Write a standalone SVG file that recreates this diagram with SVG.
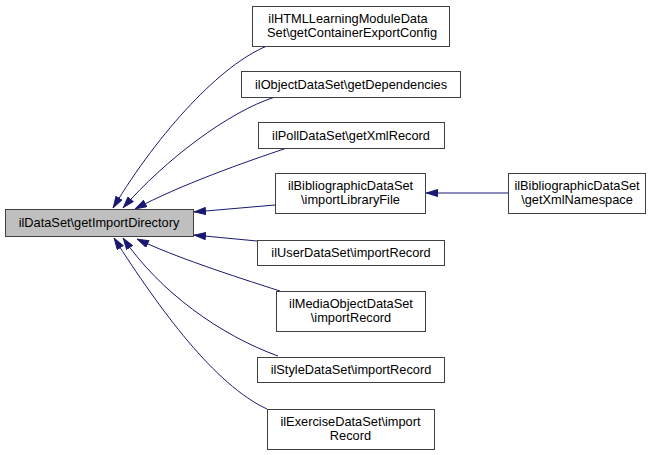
<svg xmlns="http://www.w3.org/2000/svg" width="664" height="455" viewBox="0 0 664 455">
<style>
.n rect{fill:#ffffff;stroke:#404040;stroke-width:1}
.n.main rect{fill:#bfbfbf}
.n text{font-family:"Liberation Sans",Arial,sans-serif;font-size:12.8px;fill:#000;text-anchor:middle}
.e path{fill:none;stroke:#191970;stroke-width:1;marker-end:url(#ah)}
</style>
<defs>
<marker id="ah" viewBox="0 0 12 8" refX="12" refY="4" markerWidth="12" markerHeight="8" markerUnits="userSpaceOnUse" orient="auto">
<path d="M0.5,0.5 L11.5,4 L0.5,7.5 z" fill="#191970" stroke="#191970" stroke-width="1"/>
</marker>
</defs>
<rect width="664" height="455" fill="#ffffff"/>
<g id="edges" class="e">
<path d="M267,46 C222,64 160,130 113,208"/>
<path d="M275,97 C228,112 165,160 123,208"/>
<path d="M287,148 C245,162 180,185 135,209"/>
<path d="M275,205 L194,212"/>
<path d="M508,193 L426,193"/>
<path d="M257,241 L194,235"/>
<path d="M280,291 C230,275 175,257 137,239"/>
<path d="M278,356 C220,335 160,292 123,238"/>
<path d="M267,409 C215,385 160,310 114,238"/>
</g>
<g id="node-main" class="n main"><rect x="5.5" y="209.5" width="188" height="27"/><text x="99" y="227">ilDataSet\getImportDirectory</text></g>
<g id="node-html" class="n"><rect x="252.5" y="6.5" width="197" height="40"/><text x="348" y="23">ilHTMLLearningModuleData</text><text x="352" y="37">Set\getContainerExportConfig</text></g>
<g id="node-object" class="n"><rect x="241.5" y="71.5" width="219" height="26"/><text x="351" y="89">ilObjectDataSet\getDependencies</text></g>
<g id="node-poll" class="n"><rect x="258.5" y="122.5" width="186" height="26"/><text x="351" y="140">ilPollDataSet\getXmlRecord</text></g>
<g id="node-bib-import" class="n"><rect x="275.5" y="173.5" width="150" height="40"/><text x="350.5" y="190">ilBibliographicDataSet</text><text x="350.5" y="204">\importLibraryFile</text></g>
<g id="node-bib-ns" class="n"><rect x="508.5" y="173.5" width="137" height="40"/><text x="577" y="190">ilBibliographicDataSet</text><text x="577" y="204">\getXmlNamespace</text></g>
<g id="node-user" class="n"><rect x="257.5" y="240.5" width="187" height="25"/><text x="351" y="257">ilUserDataSet\importRecord</text></g>
<g id="node-media" class="n"><rect x="276.5" y="291.5" width="149" height="40"/><text x="351" y="308">ilMediaObjectDataSet</text><text x="351" y="322">\importRecord</text></g>
<g id="node-style" class="n"><rect x="257.5" y="357.5" width="187" height="25"/><text x="351" y="374">ilStyleDataSet\importRecord</text></g>
<g id="node-exercise" class="n"><rect x="267.5" y="409.5" width="167" height="40"/><text x="350.5" y="426">ilExerciseDataSet\import</text><text x="350.5" y="440">Record</text></g>
</svg>
